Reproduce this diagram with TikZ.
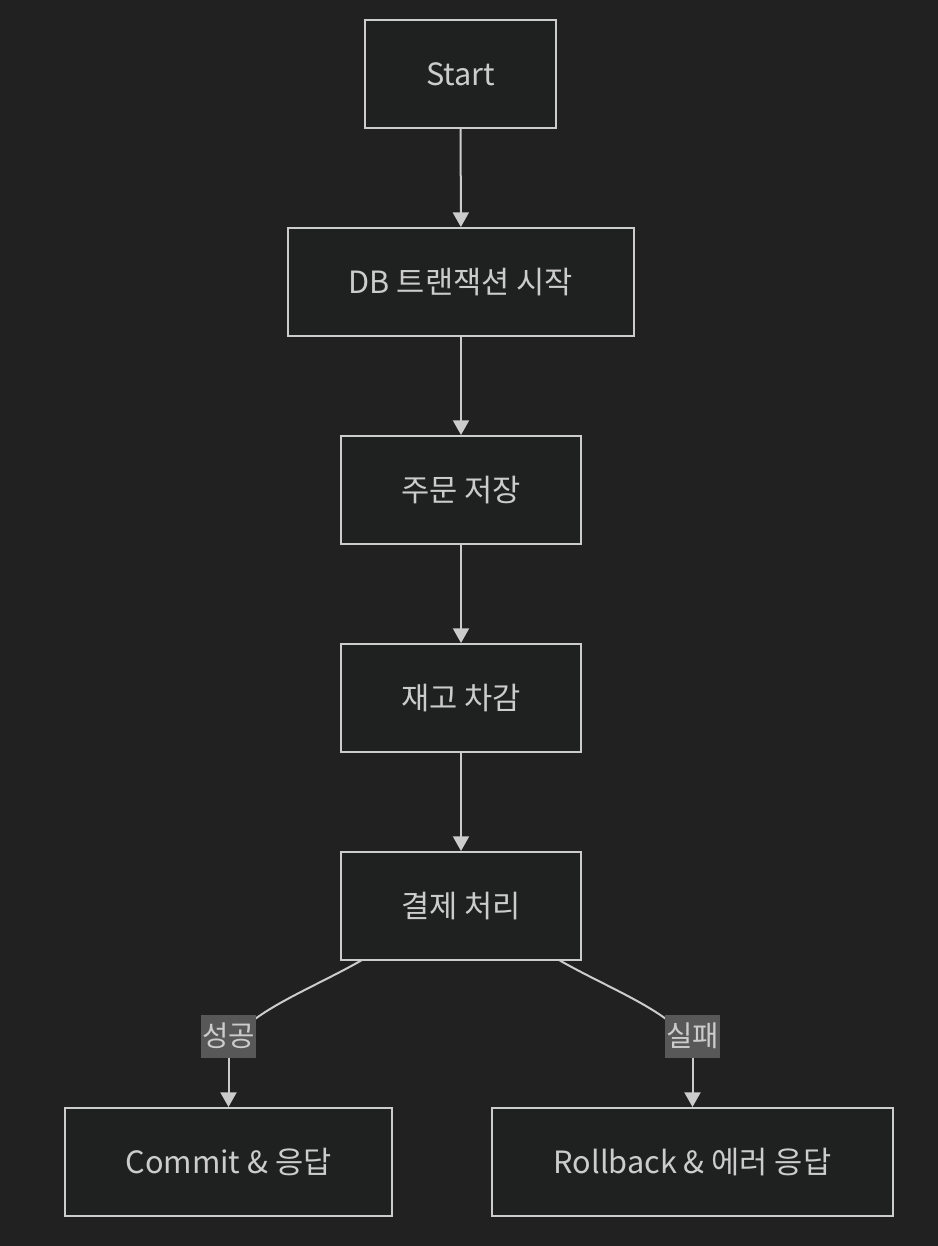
\documentclass[tikz,border=0pt]{standalone}
\usepackage{fontspec}
\setmainfont{Noto Sans CJK KR}
\usetikzlibrary{arrows.meta}
\definecolor{bgc}{HTML}{212121}
\definecolor{nodec}{HTML}{1F2020}
\definecolor{linec}{HTML}{CCCCCC}
\definecolor{textc}{HTML}{CCCCCC}
\definecolor{lblc}{HTML}{585858}
\tikzset{
  box/.style={draw=linec, line width=1.5pt, fill=nodec, text=textc, minimum height=81pt, inner sep=0pt, font=\fontsize{23pt}{27pt}\selectfont},
  lbl/.style={fill=lblc, text=textc, inner sep=0pt, minimum width=41.25pt, minimum height=32.25pt, font=\fontsize{21.5pt}{25pt}\selectfont},
  conn/.style={draw=linec, line width=1.5pt},
  arr/.style={conn, -{Triangle[width=12pt,length=11pt]}}
}
\begin{document}
\begin{tikzpicture}[x=0.75pt,y=-0.75pt]
\fill[bgc] (0,0) rectangle (938,1246);
\useasboundingbox (0,0) rectangle (938,1246);
\node[box, minimum width=143.25pt] (start) at (460.5,74) {Start};
\node[box, minimum width=259.5pt] (db) at (461,282) {DB 트랜잭션 시작};
\node[box, minimum width=180pt] (save) at (461,490) {주문 저장};
\node[box, minimum width=180pt] (stock) at (461,698) {재고 차감};
\node[box, minimum width=180pt] (pay) at (461,906) {결제 처리};
\node[box, minimum width=245.25pt] (commit) at (228.5,1162) {Commit \& 응답};
\node[box, minimum width=300.75pt] (rollback) at (692.5,1162) {Rollback \& 에러 응답};
\draw[arr] (start) -- (db);
\draw[arr] (db) -- (save);
\draw[arr] (save) -- (stock);
\draw[arr] (stock) -- (pay);
\coordinate (c1) at (362,960);
\coordinate (c2) at (559,960);
\coordinate (m1) at (228.5,1036);
\coordinate (m2) at (692.5,1036);
\draw[conn] (c1) .. controls (310,990) and (240,1015) .. (228.5,1050);
\draw[arr] (m1) -- (commit.north);
\draw[conn] (c2) .. controls (611,990) and (681,1015) .. (692.5,1050);
\draw[arr] (m2) -- (rollback.north);
\node[lbl] (l1) at (m1) {성공};
\node[lbl] (l2) at (m2) {실패};
\end{tikzpicture}
\end{document}
